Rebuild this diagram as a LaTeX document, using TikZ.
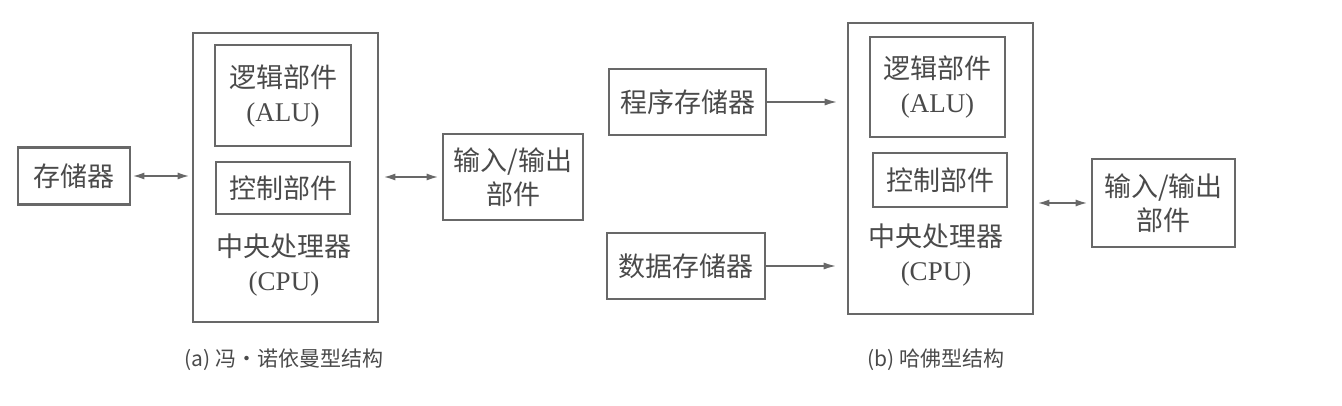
\documentclass[tikz,border=0pt]{standalone}
\usepackage{fontspec}
\setmainfont{Liberation Serif}
\newfontfamily\cjk{Noto Sans CJK SC}
\usetikzlibrary{arrows.meta}
\definecolor{ln}{HTML}{686868}
\definecolor{tx}{HTML}{4A4A4A}
\tikzset{
  box/.style={draw=ln, line width=2.6pt, rectangle, inner sep=0pt, text=tx, align=center,
    font=\fontsize{27}{34}\selectfont},
  lbl/.style={text=tx, align=center, inner sep=0pt, font=\fontsize{27}{34}\selectfont},
  capt/.style={text=tx, inner sep=0pt, font=\cjk\fontsize{21}{24}\selectfont},
  con/.style={draw=ln, line width=2pt},
  bi/.style={con, {Latex[length=12pt,width=7pt]}-{Latex[length=12pt,width=7pt]}},
  one/.style={con, -{Latex[length=13pt,width=7pt]}}
}
\begin{document}
\begin{tikzpicture}[x=1pt,y=-1pt]
\useasboundingbox (0,0) rectangle (1342,406);
% ---------- (a) ----------
\node[box, minimum width=112pt, minimum height=57pt] (memA) at (74,176) {\cjk 存储器};
\node[box, minimum width=185pt, minimum height=289pt] (cpuA) at (285.5,177.5) {};
\node[box, minimum width=136pt, minimum height=101pt] (aluA) at (283,95.5) {{\cjk 逻辑部件}\\(ALU)};
\node[box, minimum width=134pt, minimum height=52pt] (ctlA) at (283,188) {\cjk 控制部件};
\node[lbl] (cpuAt) at (284,265) {{\cjk 中央处理器}\\(CPU)};
\node[box, minimum width=140pt, minimum height=86pt] (ioA) at (513,177) {\cjk 输入/输出\\ \cjk 部件};
\draw[bi, shorten <=1pt, shorten >=2pt] (memA.east) -- (memA.east -| cpuA.west);
\draw[bi, shorten <=4pt, shorten >=3pt] (ioA.west -| cpuA.east) -- (ioA.west);
\node[capt] (capA) at (284,360) {(a) 冯・诺依曼型结构};
% ---------- (b) ----------
\node[box, minimum width=157pt, minimum height=66pt] (progB) at (687.5,102) {\cjk 程序存储器};
\node[box, minimum width=158pt, minimum height=66pt] (dataB) at (686,266) {\cjk 数据存储器};
\node[box, minimum width=185pt, minimum height=291pt] (cpuB) at (940.5,168.5) {};
\node[box, minimum width=135pt, minimum height=100pt] (aluB) at (937.5,87) {{\cjk 逻辑部件}\\(ALU)};
\node[box, minimum width=134pt, minimum height=54pt] (ctlB) at (940,180) {\cjk 控制部件};
\node[lbl] (cpuBt) at (936,255.5) {{\cjk 中央处理器}\\(CPU)};
\node[box, minimum width=143pt, minimum height=88pt] (ioB) at (1163.5,203) {\cjk 输入/输出\\ \cjk 部件};
\draw[one, shorten >=9pt] (progB.east) -- (progB.east -| cpuB.west);
\draw[one, shorten >=10pt] (dataB.east) -- (dataB.east -| cpuB.west);
\draw[bi, shorten <=3pt, shorten >=3pt] (ioB.west -| cpuB.east) -- (ioB.west);
\node[capt] (capB) at (936,360) {(b) 哈佛型结构};
\end{tikzpicture}
\end{document}
